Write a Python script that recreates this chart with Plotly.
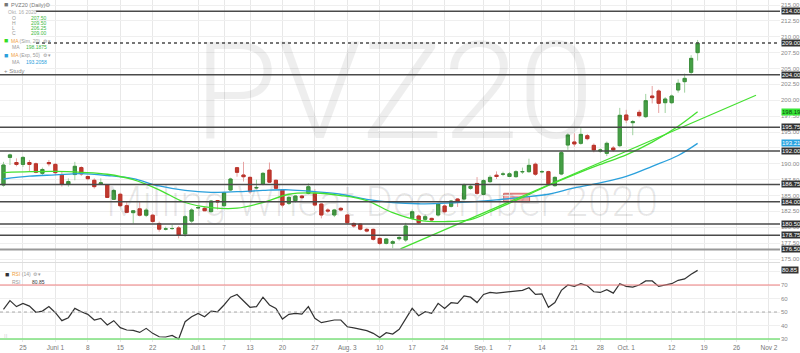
import numpy as np
import pandas as pd
import plotly.graph_objects as go

# ---------------- data ----------------
first_day = "2020-05-20"
open_ = [186.65,191.0,190.2,189.9,190.2,190.0,188.5,190.2,189.9,188.2,
         186.8,188.3,189.4,188.0,187.4,186.8,186.65,184.4,185.2,183.4,
         182.3,182.9,181.9,181.9,180.6,179.7,179.8,179.9,178.94,180.98,
         183.05,182.98,182.46,184.2,183.4,185.87,189.38,188.23,187.86,186.2,
         186.76,189.0,187.4,185.9,183.77,184.19,184.92,185.34,185.34,183.66,
         182.72,181.93,182.98,181.93,180.6,180.5,179.67,179.67,178.25,177.47,
         177.47,178.2,178.0,181.4,181.77,181.25,181.4,181.93,183.35,183.3,
         184.45,184.45,186.13,186.9,185.18,187.18,188.2,188.36,188.0,187.97,
         188.73,188.75,189.93,188.74,188.76,186.55,188.39,192.95,193.43,193.22,
         194.42,192.9,192.0,191.64,192.48,192.85,197.68,196.47,198.1,197.42,
         200.67,201.46,199.62,199.62,201.62,202.93,204.4,207.5]
high = [190.3,191.6,190.85,191.2,190.6,190.2,189.4,190.6,190.1,188.75,
        187.7,190.3,189.6,188.1,187.7,187.7,186.8,186.0,185.45,184.0,
        182.7,184.0,183.0,182.1,180.9,180.1,180.4,180.2,181.9,183.0,
        183.3,183.3,184.3,184.3,185.6,187.8,189.5,190.3,188.0,187.5,
        188.7,190.2,187.5,186.0,185.0,185.1,185.1,186.9,186.0,183.8,
        183.0,182.9,183.2,182.1,180.8,180.6,179.9,179.8,178.4,178.3,
        178.0,178.6,180.7,182.8,182.0,182.0,181.5,183.9,183.6,184.3,
        184.6,186.9,186.8,187.9,187.6,188.2,188.8,188.75,188.7,189.0,
        189.4,190.8,190.2,189.0,188.9,188.0,192.0,194.8,194.8,195.6,
        194.7,193.2,192.4,193.5,192.8,198.8,198.5,196.9,198.5,201.0,
        202.25,201.7,200.5,200.9,203.3,204.2,207.1,209.5]
low = [186.4,189.8,189.6,189.5,188.8,188.5,188.1,189.6,188.2,186.4,
       186.4,187.4,188.1,187.4,186.1,186.7,184.6,184.3,183.2,182.2,
       180.6,181.7,181.6,180.7,179.3,179.5,179.6,178.25,178.5,180.7,
       182.9,182.55,182.3,182.8,183.2,185.7,187.96,187.2,185.3,185.97,
       186.6,187.0,186.0,183.1,183.5,183.9,184.5,185.2,183.3,181.4,
       182.2,181.6,182.5,180.5,179.9,179.5,179.2,177.9,177.2,177.3,
       176.7,177.9,177.7,181.2,180.5,181.0,180.9,181.7,182.2,183.1,
       183.2,184.2,185.9,185.1,185.0,187.0,187.6,188.05,187.9,187.8,
       188.4,188.6,188.1,188.5,186.6,186.4,188.2,192.2,192.7,193.0,
       193.7,191.8,191.7,191.2,191.9,192.6,196.4,194.5,197.3,197.2,
       199.5,198.0,198.0,199.4,201.2,201.2,204.0,206.25]
close = [189.8,191.4,189.9,191.0,189.9,188.65,189.1,190.0,188.6,186.8,
         187.2,189.6,188.4,187.65,186.4,187.0,184.7,185.8,183.4,182.35,
         182.6,181.9,182.7,180.9,179.7,179.75,179.8,178.8,181.67,182.72,
         183.1,182.6,184.13,183.98,185.45,187.6,188.65,187.96,185.6,186.25,
         188.49,187.1,186.13,183.5,184.71,184.92,184.66,186.39,183.5,181.93,
         182.56,182.72,182.72,180.72,180.2,179.7,179.4,178.1,177.47,178.15,
         177.73,178.4,180.2,182.45,180.72,181.67,181.14,183.66,182.45,184.13,
         184.05,186.65,186.45,185.34,187.35,187.86,188.0,188.38,188.42,188.75,
         188.77,189.75,188.36,188.76,186.85,187.86,191.75,194.53,193.12,194.63,
         193.95,192.17,192.17,193.22,192.17,197.63,196.89,196.63,197.57,199.94,
         200.41,199.52,200.2,200.67,202.67,203.45,206.6,209.0]
rsi = [52,58.4,54.0,56.4,54.4,49.8,50.7,54.0,49.5,43.6,
       45.8,52.7,50.2,48.3,44.1,45.3,40.4,43.6,38.4,36.7,
       36.4,34.9,37.9,34.2,31.7,31.5,32.7,30.0,42.8,46.5,
       49.0,46.5,50.7,50.2,55.2,61,63,58.5,53.5,54.0,
       61,55.2,52.7,44.8,48.3,49.0,48.5,54.0,45.3,42.1,
       43.3,44.1,44.1,39.1,38.2,37.2,36.2,34.2,31.2,34.7,
       33.7,37.2,45.3,52.7,47.3,50.2,49.0,56.4,52.7,56.9,
       56.4,62,61,57,63,64.5,64,64.5,65,66,
       66,68,63,63.5,53.5,57,66,70,69,71,
       69.5,65,64.5,66.5,64,71,69,68.5,70,73,
       73,69,70,71,73.5,74.5,78,80.85]

sma_idx = [0,4,8,12,16,20,24,28,32,36,40,44,48,52,56,60,64,68,72,76,80,84,88,92,96,100,104,107]
sma_val = [188.6,188.75,188.8,188.65,188.35,187.5,185.9,183.9,183.1,183.0,183.9,185.2,185.4,185.0,
           184.2,182.3,181.1,180.9,181.2,182.9,184.7,186.6,188.3,189.9,191.4,193.4,195.9,198.1875]
ema_idx = [0,4,8,12,16,20,24,28,32,36,40,44,48,52,56,60,64,68,72,76,80,84,88,92,96,100,104,107]
ema_val = [187.6,188.05,188.25,188.45,188.15,187.65,186.5,185.8,185.5,185.6,185.8,185.9,185.6,185.2,
           184.4,183.9,183.7,183.8,184.0,184.3,184.75,185.2,186.2,187.0,188.0,189.6,191.3,193.2058]

trend_idx = [61.2, 116.0]
trend_val = [176.6, 200.8]
zone_idx = [77.1, 81.1]
zone_val = [184.0, 185.35]

levels = [214.0, 209.0, 204.0, 195.75, 192.0, 186.75, 184.0, 180.5, 178.75, 176.5]
level_dash = ["solid", "dot", "solid", "solid", "solid", "solid", "solid", "solid", "solid", "solid"]

tick_dates = ["2020-05-25","2020-06-01","2020-06-08","2020-06-15","2020-06-22","2020-07-01",
              "2020-07-07","2020-07-13","2020-07-20","2020-07-27","2020-08-03","2020-08-10",
              "2020-08-17","2020-08-24","2020-09-01","2020-09-07","2020-09-14","2020-09-21",
              "2020-09-25","2020-10-01","2020-10-12","2020-10-19","2020-10-26","2020-11-02"]
tick_text = ["25","Juni 1","8","15","22","Juli 1","7","13","20","27","Aug. 3","10",
             "17","24","Sep. 1","7","14","21","28","Oct. 1","12","19","26","Nov 2"]
price_ticks = [175.0,177.5,180.0,182.5,185.0,187.5,190.0,192.5,195.0,197.5,200.0,202.5,205.0,207.5,210.0,212.5,215.0]
rsi_ticks = [30,40,50,60,70,80]

# ---------------- build ----------------
days = pd.bdate_range(first_day, "2020-11-30")
pos = {d.strftime("%Y-%m-%d"): k for k, d in enumerate(days)}
x = np.arange(len(close))
tickpos = [pos[d] for d in tick_dates]

XR = [-0.537, 119.7]
YR = [174.53, 215.79]
PLOT_W, PRICE_H = 782.0, 262.0
def px_to_data(px, py):
    return (XR[0] + px / PLOT_W * (XR[1] - XR[0]), YR[1] - py / PRICE_H * (YR[1] - YR[0]))

o = np.array(open_); c = np.array(close)
body_hi = np.maximum(o, c); body_lo = np.minimum(o, c)

fig = go.Figure()
# watermark text (drawn first, so it stays behind all marks)
wx1, wy1 = px_to_data(395, 104)
wx2, wy2 = px_to_data(383, 205)
fig.add_trace(go.Scatter(x=[wx1], y=[wy1], mode="text", text=["PVZ20"], textposition="middle center",
                         textfont=dict(family="Roboto", size=136, color="rgba(0,0,0,0.066)", weight=300),
                         showlegend=False, hoverinfo="skip"))
fig.add_trace(go.Scatter(x=[wx2], y=[wy2], mode="text", text=["Milling Wheat December 2020"], textposition="middle center",
                         textfont=dict(family="Roboto", size=42, color="rgba(0,0,0,0.09)", weight=300),
                         showlegend=False, hoverinfo="skip"))

fig.add_trace(go.Candlestick(x=x, open=open_, high=high, low=low, close=close,
    increasing=dict(line=dict(color="#9fd19f", width=1), fillcolor="#9fd19f"),
    decreasing=dict(line=dict(color="#e7a3a3", width=1), fillcolor="#e7a3a3"),
    showlegend=False, hoverinfo="skip"))
fig.add_trace(go.Candlestick(x=x, open=open_, high=body_hi, low=body_lo, close=close,
    increasing=dict(line=dict(color="#3d8f3d", width=1), fillcolor="#45a045"),
    decreasing=dict(line=dict(color="#b8332a", width=1), fillcolor="#c23a2e"),
    showlegend=False, hoverinfo="skip"))

fig.add_trace(go.Scatter(x=ema_idx, y=ema_val, mode="lines", line=dict(color="#2aa0dc", width=1.3, shape="spline"),
                         showlegend=False, hoverinfo="skip"))
fig.add_trace(go.Scatter(x=sma_idx, y=sma_val, mode="lines", line=dict(color="#44e030", width=1.3, shape="spline"),
                         showlegend=False, hoverinfo="skip"))
fig.add_trace(go.Scatter(x=trend_idx, y=trend_val, mode="lines", line=dict(color="#44e030", width=1.2),
                         showlegend=False, hoverinfo="skip"))
fig.add_trace(go.Scatter(x=x, y=rsi, mode="lines", line=dict(color="#333333", width=1.2),
                         xaxis="x", yaxis="y2", showlegend=False, hoverinfo="skip"))

shapes = []
for lv, ds in zip(levels, level_dash):
    col = "#999999" if lv == 176.5 else "#4a4a4a"
    w = 2 if lv == 176.5 else 1.5
    shapes.append(dict(type="line", xref="paper", x0=0, x1=1, yref="y", y0=lv, y1=lv,
                       line=dict(color=col, width=w, dash=ds), layer="above"))
shapes.append(dict(type="rect", xref="x", yref="y", x0=zone_idx[0], x1=zone_idx[1], y0=zone_val[0], y1=zone_val[1],
                   fillcolor="#f2a9a9", line=dict(color="#d86a6a", width=1), layer="below"))
shapes.append(dict(type="line", xref="paper", x0=0, x1=1, yref="y2", y0=70, y1=70, line=dict(color="#f08080", width=1.2)))
shapes.append(dict(type="line", xref="paper", x0=0, x1=1, yref="y2", y0=30, y1=30, line=dict(color="#7ee07e", width=1.5)))
shapes.append(dict(type="line", xref="paper", x0=0, x1=1, yref="y2", y0=50, y1=50, line=dict(color="#aaaaaa", width=1, dash="dot")))
shapes.append(dict(type="rect", xref="paper", yref="paper", x0=0, x1=36/782, y0=1-72/342, y1=1,
                   fillcolor="white", line=dict(width=0), layer="above"))
shapes.append(dict(type="line", xref="paper", yref="paper", x0=0, x1=1, y0=(342-262.5)/342, y1=(342-262.5)/342,
                   line=dict(color="#dddddd", width=1)))

ann = []
FONT = "Liberation Sans, Arial, sans-serif"
def txt(xp, yp, s, color="#777", size=5.5, anchor="left"):
    ann.append(dict(xref="paper", yref="paper", x=xp/782, y=1-yp/342, text=s, showarrow=False,
                    xanchor=anchor, yanchor="middle", font=dict(family=FONT, size=size, color=color)))

# top-left legend
txt(2, 5, "■", "#777", 7); txt(9, 5, "PVZ20 (Daily)", "#777", 5.5); txt(43, 5, "⚙", "#999", 5.5)
txt(6, 12, "Okt. 16 2020", "#aaa", 5)
for k, (lab, val) in enumerate([("O", "207.50"), ("H", "209.50"), ("L", "206.25"), ("C", "209.00")]):
    txt(10, 17.5 + 5.3*k, lab, "#999", 5); txt(29, 17.5 + 5.3*k, val, "#3db83d", 5)
txt(2, 41, "■", "#33dd22", 7); txt(9, 41, "<span style='color:#f0a040'>MA</span> (Sim, 20)", "#999", 5); txt(41, 41, "⚙ ▾", "#999", 5)
txt(10, 47.5, "MA", "#999", 5); txt(24, 47.5, "198.1875", "#3db83d", 5)
txt(2, 55, "■", "#2aa0dc", 7); txt(9, 55, "<span style='color:#f0a040'>MA</span> (Exp, 50)", "#999", 5); txt(41, 55, "⚙ ▾", "#999", 5)
txt(10, 62, "MA", "#999", 5); txt(24, 62, "193.2058", "#2aa0dc", 5)
txt(2, 71, "+ Study", "#888", 6)
# RSI legend
txt(3, 274, "■", "#333", 7); txt(10, 274, "<span style='color:#f0a040'>RSI</span> (14)", "#999", 5); txt(31, 274, "⚙ ▾", "#999", 5)
txt(10, 282, "RSI", "#999", 5); txt(30, 282, "80.85", "#333", 5)
txt(2, 336, "⁞⁞", "#aaa", 6)

def box(yv, s, bg, fg, yref="y"):
    ann.append(dict(xref="paper", yref=yref, x=1, y=yv, text=s, showarrow=False, xanchor="left", yanchor="middle",
                    xshift=1, bgcolor=bg, borderpad=0, font=dict(family=FONT, size=6, color=fg)))
for lv in levels:
    box(lv, f"{lv:.2f}", "#333333", "#ffffff")
box(sma_val[-1], f"{sma_val[-1]:.2f}", "#36e636", "#114411")
box(ema_val[-1], f"{ema_val[-1]:.2f}", "#29a3e0", "#ffffff")
box(rsi[-1], f"{rsi[-1]:.2f}", "#333333", "#ffffff", "y2")

covered = {192.5}
fig.update_layout(
    width=800, height=353, margin=dict(l=0, r=18, t=0, b=11),
    paper_bgcolor="white", plot_bgcolor="white", showlegend=False,
    xaxis=dict(domain=[0, 1], anchor="y2", range=XR, tickmode="array", tickvals=tickpos,
               ticktext=tick_text, showgrid=True, gridcolor="#e8e8e8", gridwidth=1, zeroline=False,
               showline=False, ticks="", tickfont=dict(family=FONT, size=6.5, color="#777"),
               rangeslider=dict(visible=False), fixedrange=True),
    yaxis=dict(domain=[(342-262)/342, 1], anchor="x", side="right", range=YR,
               tickmode="array", tickvals=price_ticks,
               ticktext=["" if t in covered else f"{t:.2f}" for t in price_ticks],
               showgrid=True, gridcolor="#efefef", zeroline=False, ticks="",
               tickfont=dict(family=FONT, size=6, color="#888")),
    yaxis2=dict(domain=[0, (342-263)/342], anchor="x", side="right", range=[27.8, 86.3],
                tickmode="array", tickvals=rsi_ticks, ticktext=["30", "40", "50", "60", "70", ""],
                showgrid=True, gridcolor="#efefef", zeroline=False, ticks="",
                tickfont=dict(family=FONT, size=6, color="#888")),
    shapes=shapes, annotations=ann,
)
fig.write_html("out.html", config={"displayModeBar": False})
